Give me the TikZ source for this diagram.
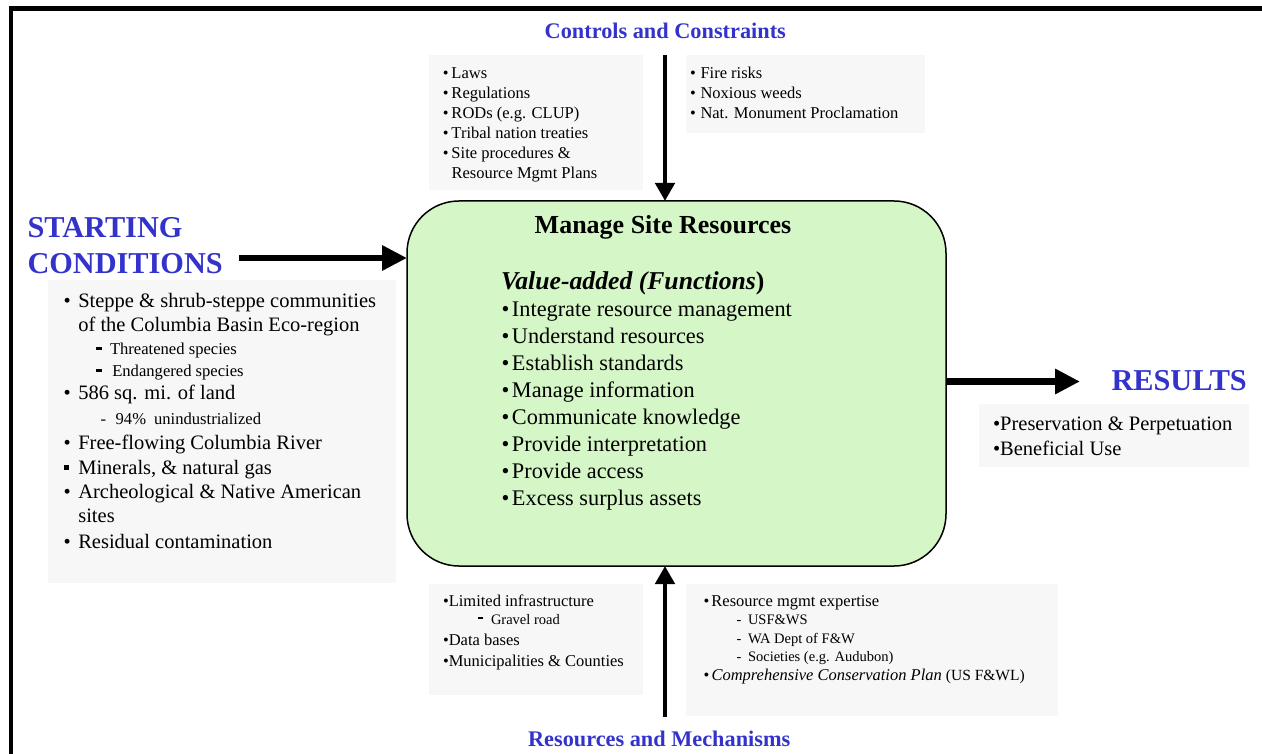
\documentclass[tikz,border=0pt]{standalone}
\usepackage{fontspec}
\setmainfont{Liberation Serif}
\usetikzlibrary{arrows.meta}

\definecolor{idefblue}{RGB}{51,51,204}
\definecolor{panelgray}{RGB}{247,247,247}
\definecolor{funcgreen}{RGB}{213,246,199}

% bullet markers with a fixed advance
\newcommand\bul[1]{\makebox[#1][l]{\textbullet}}
\newcommand\sqbul[1]{\makebox[#1][l]{\rule[4.5pt]{5pt}{5pt}}}
\newcommand\thickdash[1]{\makebox[#1][l]{\rule[4.3pt]{5.5pt}{2.6pt}}}

\begin{document}
\begin{tikzpicture}[x=1pt,y=-1pt,
  every node/.style={inner sep=0pt, outer sep=0pt},
  panel/.style={fill=panelgray, draw=none, anchor=north west},
  funcbox/.style={draw=black, line width=1.5pt, fill=funcgreen,
    rounded corners=52pt, anchor=north west},
  ctl/.style={anchor=base west, font=\fontsize{16.5}{20}\selectfont},
  ctlsub/.style={anchor=base west, font=\fontsize{14.5}{18}\selectfont},
  start/.style={anchor=base west, font=\fontsize{20.5}{25}\selectfont},
  startsub/.style={anchor=base west, font=\fontsize{16.6}{20}\selectfont},
  func/.style={anchor=base west, font=\fontsize{22.3}{27}\selectfont},
  heading/.style={anchor=base, text=idefblue,
    font=\fontsize{22.3}{27}\selectfont\bfseries},
  bigheading/.style={anchor=base west, text=idefblue,
    font=\fontsize{30.3}{37}\selectfont\bfseries},
  bigarrow/.style={line width=6.5pt, -{Triangle[length=25pt,width=24pt]}},
  smallarrow/.style={line width=4.5pt, -{Triangle[length=18pt,width=19pt]}}
]
\useasboundingbox (0,0) rectangle (1262,754);

% outer frame (runs off the right and bottom edges)
\draw[line width=4.5pt] (1275,8.5) -- (10.8,8.5) -- (10.8,765);

% ---------- panels ----------
\node[panel, minimum width=214.5pt, minimum height=135pt] (ccLeft) at (428.5,55) {};
\node[panel, minimum width=238.5pt, minimum height=78pt] (ccRight) at (686,55) {};
\node[panel, minimum width=348pt, minimum height=303pt] (scPanel) at (48,280) {};
\node[panel, minimum width=269.5pt, minimum height=63.5pt] (resPanel) at (979,403.5) {};
\node[panel, minimum width=214.5pt, minimum height=111pt] (rmLeft) at (428.5,584.3) {};
\node[panel, minimum width=372pt, minimum height=132pt] (rmRight) at (685.5,584.3) {};

% ---------- central activity ----------
\node[funcbox, minimum width=539pt, minimum height=365pt] (main) at (407,201) {};

% ---------- arrows ----------
\coordinate (ccTail) at (665,55);
\coordinate (rmTail) at (665,717);
\coordinate (scTail) at (239,258);
\coordinate (resTip) at (1080,381.5);
\draw[smallarrow] (ccTail) -- (ccTail |- main.north);
\draw[smallarrow] (rmTail) -- (rmTail |- main.south);
\draw[bigarrow] (scTail) -- (scTail -| main.west);
\draw[bigarrow] (resTip -| main.east) -- (resTip);

% ---------- headings ----------
\node[heading] (ccTitle) at (665.3,38.3) {Controls and Constraints};
\node[heading] (rmTitle) at (659.2,746.7) {Resources and Mechanisms};
\node[bigheading] (scTitleA) at (27.5,237.3) {STARTING};
\node[bigheading] (scTitleB) at (27.5,274) {CONDITIONS};
\node[bigheading] (resTitle) at (1111.5,390.7) {RESULTS};

% ---------- controls ----------
\node[ctl] (cc1) at (442.8,78.3) {\bul{8.7pt}Laws};
\node[ctl] (cc2) at (442.8,98.3) {\bul{8.7pt}Regulations};
\node[ctl] (cc3) at (442.8,118.3) {\bul{8.7pt}RODs (e.g. CLUP)};
\node[ctl] (cc4) at (442.8,138.3) {\bul{8.7pt}Tribal nation treaties};
\node[ctl] (cc5) at (442.8,158.3) {\bul{8.7pt}Site procedures \&};
\node[ctl] (cc6) at (451.5,178.3) {Resource Mgmt Plans};

\node[ctl] (cr1) at (690,78.3) {\bul{10.5pt}Fire risks};
\node[ctl] (cr2) at (690,98.3) {\bul{10.5pt}Noxious weeds};
\node[ctl] (cr3) at (690,118.3) {\bul{10.5pt}Nat. Monument Proclamation};

% ---------- functions ----------
\node[anchor=base, font=\fontsize{26}{30}\selectfont\bfseries] (mainTitle)
  at (663,233.5) {Manage Site Resources};
\node[anchor=base west, font=\fontsize{25.7}{30}\selectfont\bfseries] (valueAdded)
  at (501,290) {\textit{Value-added (Functions}{)}};
\node[func] (f1) at (501.5,316.5) {\bul{10.5pt}Integrate resource management};
\node[func] (f2) at (501.5,343.5) {\bul{10.5pt}Understand resources};
\node[func] (f3) at (501.5,370.5) {\bul{10.5pt}Establish standards};
\node[func] (f4) at (501.5,397.5) {\bul{10.5pt}Manage information};
\node[func] (f5) at (501.5,424.5) {\bul{10.5pt}Communicate knowledge};
\node[func] (f6) at (501.5,451.5) {\bul{10.5pt}Provide interpretation};
\node[func] (f7) at (501.5,478.5) {\bul{10.5pt}Provide access};
\node[func] (f8) at (501.5,505.5) {\bul{10.5pt}Excess surplus assets};

% ---------- starting conditions ----------
\node[start] (sc1) at (63.5,307.3) {\bul{14.8pt}Steppe \& shrub-steppe communities};
\node[start] (sc1b) at (78.3,331.7) {of the Columbia Basin Eco-region};
\node[startsub] (sc1c) at (96,354) {\thickdash{14pt}Threatened species};
\node[startsub] (sc1d) at (96,376) {\thickdash{16.3pt}Endangered species};
\node[start] (sc2) at (63.5,399.3) {\bul{14.8pt}586 sq. mi. of land};
\node[startsub] (sc2b) at (100.5,424) {\makebox[15.2pt][l]{-}94\%\hspace{8pt}unindustrialized};
\node[start] (sc3) at (63.5,449.3) {\bul{14.8pt}Free-flowing Columbia River};
\node[start] (sc4) at (63.5,474) {\sqbul{14.8pt}Minerals, \& natural gas};
\node[start] (sc5) at (63.5,498.3) {\bul{14.8pt}Archeological \& Native American};
\node[start] (sc5b) at (78.3,522.7) {sites};
\node[start] (sc6) at (63.5,548.3) {\bul{14.8pt}Residual contamination};

% ---------- results ----------
\node[start] (res1) at (993,430.7) {\textbullet Preservation \& Perpetuation};
\node[start] (res2) at (993,455) {\textbullet Beneficial Use};

% ---------- resources and mechanisms ----------
\node[ctl] (rl1) at (443,606.3) {\textbullet Limited infrastructure};
\node[ctlsub] (rl1b) at (478.3,624.7) {\makebox[12.7pt][l]{\rule[5.3pt]{5pt}{2.2pt}}Gravel road};
\node[ctl] (rl2) at (443,645.7) {\textbullet Data bases};
\node[ctl] (rl3) at (443,666.3) {\textbullet Municipalities \& Counties};

\node[ctl] (rr1) at (703.5,606.3) {\bul{8pt}Resource mgmt expertise};
\node[ctlsub] (rr1a) at (736.5,624.7) {\makebox[11.5pt][l]{-}USF\&WS};
\node[ctlsub] (rr1b) at (736.5,643) {\makebox[11.5pt][l]{-}WA Dept of F\&W};
\node[ctlsub] (rr1c) at (736.5,661.3) {\makebox[11.5pt][l]{-}Societies (e.g. Audubon)};
\node[ctl] (rr2) at (703.5,680.5) {\bul{8pt}\textit{Comprehensive Conservation Plan}
  {\fontsize{15.5}{18}\selectfont (US F\&WL)}};
\end{tikzpicture}
\end{document}
